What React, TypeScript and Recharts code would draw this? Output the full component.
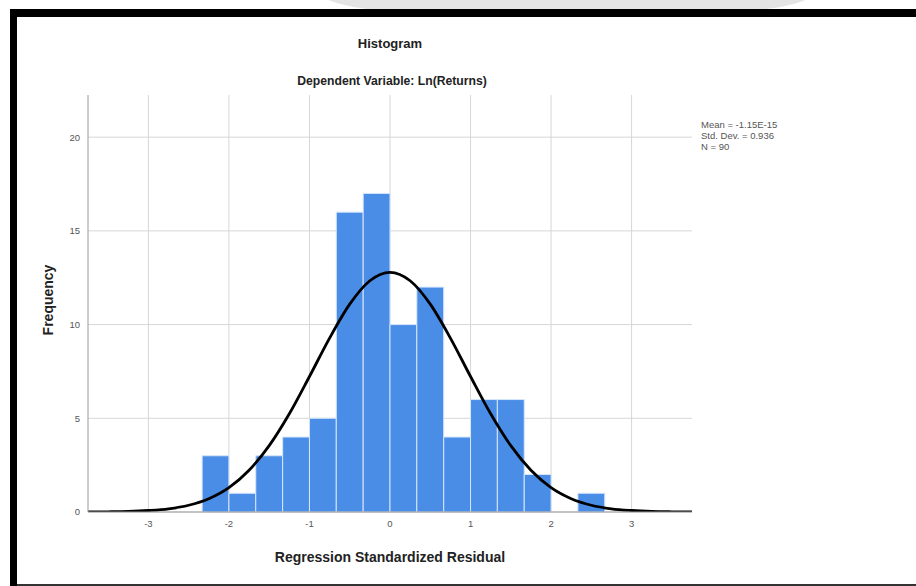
import React from "react";
import {
  ComposedChart,
  Line,
  XAxis,
  YAxis,
  CartesianGrid,
  ReferenceArea,
} from "recharts";

// Histogram bins (lower / upper edges, standardized residual) and counts
const binLower = [-2.333, -2.0, -1.667, -1.333, -1.0, -0.667, -0.333, 0.0, 0.333, 0.667, 1.0, 1.333, 1.667, 2.0, 2.333];
const binUpper = [-2.0, -1.667, -1.333, -1.0, -0.667, -0.333, 0.0, 0.333, 0.667, 1.0, 1.333, 1.667, 2.0, 2.333, 2.667];
const binCounts = [3, 1, 3, 4, 5, 16, 17, 10, 12, 4, 6, 6, 2, 0, 1];

// Normal curve points
const curveX = [-3.75, -3.5, -3.25, -3.0, -2.75, -2.5, -2.25, -2.0, -1.75, -1.5, -1.25, -1.0, -0.75, -0.5, -0.25, 0, 0.25, 0.5, 0.75, 1.0, 1.25, 1.5, 1.75, 2.0, 2.25, 2.5, 2.75, 3.0, 3.25, 3.5, 3.75];
const curveY = [0.0, 0.01, 0.03, 0.08, 0.17, 0.36, 0.71, 1.3, 2.23, 3.54, 5.24, 7.23, 9.28, 11.09, 12.34, 12.79, 12.34, 11.09, 9.28, 7.23, 5.24, 3.54, 2.23, 1.3, 0.71, 0.36, 0.17, 0.08, 0.03, 0.01, 0.0];

const xTicks = [-3, -2, -1, 0, 1, 2, 3];
const yTicks = [0, 5, 10, 15, 20];

const statsLines = ["Mean = -1.15E-15", "Std. Dev. = 0.936", "N = 90"];

const curveData = curveX.map((x, i) => ({ x, y: curveY[i] }));

const FONT = "'Liberation Sans', Arial, sans-serif";
const GRID = "#d6d6d6";

export default function App() {
  return (
    <div
      style={{
        position: "absolute",
        left: 0,
        top: 0,
        width: 916,
        height: 586,
        background: "#ffffff",
        overflow: "hidden",
        fontFamily: FONT,
      }}
    >
      {/* top gray shape */}
      <div
        style={{
          position: "absolute",
          left: 298,
          top: -30,
          width: 538,
          height: 40,
          background: "#e4e4e4",
          borderBottomLeftRadius: "90px 40px",
          borderBottomRightRadius: "90px 40px",
        }}
      />
      {/* frame borders */}
      <div style={{ position: "absolute", left: 10, top: 9, width: 906, height: 8, background: "#000" }} />
      <div style={{ position: "absolute", left: 10, top: 9, width: 7, height: 577, background: "#000" }} />
      <div style={{ position: "absolute", left: 17, top: 584, width: 899, height: 2, background: "#333" }} />

      <div style={{ position: "absolute", left: 0, top: 0 }}>
        <ComposedChart
          width={916}
          height={586}
          data={curveData}
          margin={{ top: 95, right: 224, bottom: 44, left: 60 }}
        >
          <CartesianGrid stroke={GRID} strokeWidth={1} syncWithTicks />
          <XAxis
            dataKey="x"
            type="number"
            domain={[-3.75, 3.75]}
            ticks={xTicks}
            tickLine={false}
            axisLine={{ stroke: "#9a9a9a" }}
            tick={{ fontSize: 9.5, fill: "#555", fontFamily: FONT }}
            tickFormatter={(v) => String(v)}
            height={30}
            allowDataOverflow
          />
          <YAxis
            type="number"
            domain={[0, 22.25]}
            ticks={yTicks}
            tickLine={false}
            axisLine={{ stroke: "#9a9a9a" }}
            tick={{ fontSize: 9.5, fill: "#555", fontFamily: FONT }}
            width={28}
            allowDataOverflow
          />
          {binCounts.map((c, i) =>
            c > 0 ? (
              <ReferenceArea
                key={i}
                x1={binLower[i]}
                x2={binUpper[i]}
                y1={0}
                y2={c}
                fill="#4a8de6"
                fillOpacity={1}
                stroke="#d6e6fb"
                strokeWidth={1}
                ifOverflow="visible"
              />
            ) : null
          )}
          <Line
            dataKey="y"
            type="monotone"
            stroke="#000"
            strokeWidth={2.8}
            dot={false}
            isAnimationActive={false}
          />
        </ComposedChart>
      </div>

      {/* titles */}
      <div
        style={{
          position: "absolute",
          left: 190,
          width: 400,
          top: 36,
          textAlign: "center",
          fontSize: 13,
          fontWeight: 700,
          color: "#222",
        }}
      >
        Histogram
      </div>
      <div
        style={{
          position: "absolute",
          left: 190,
          width: 404,
          top: 74,
          textAlign: "center",
          fontSize: 12.2,
          fontWeight: 700,
          color: "#222",
        }}
      >
        Dependent Variable: Ln(Returns)
      </div>
      <div
        style={{
          position: "absolute",
          left: 190,
          width: 400,
          top: 549,
          textAlign: "center",
          fontSize: 14,
          fontWeight: 700,
          color: "#222",
        }}
      >
        Regression Standardized Residual
      </div>
      <div
        style={{
          position: "absolute",
          left: 48,
          top: 300,
          transform: "translate(-50%, -50%) rotate(-90deg)",
          fontSize: 14,
          fontWeight: 700,
          color: "#222",
          whiteSpace: "nowrap",
        }}
      >
        Frequency
      </div>

      {/* statistics */}
      <div
        style={{
          position: "absolute",
          left: 701,
          top: 119,
          fontSize: 9.5,
          lineHeight: "11px",
          color: "#555",
        }}
      >
        {statsLines.map((s) => (
          <div key={s}>{s}</div>
        ))}
      </div>
    </div>
  );
}
